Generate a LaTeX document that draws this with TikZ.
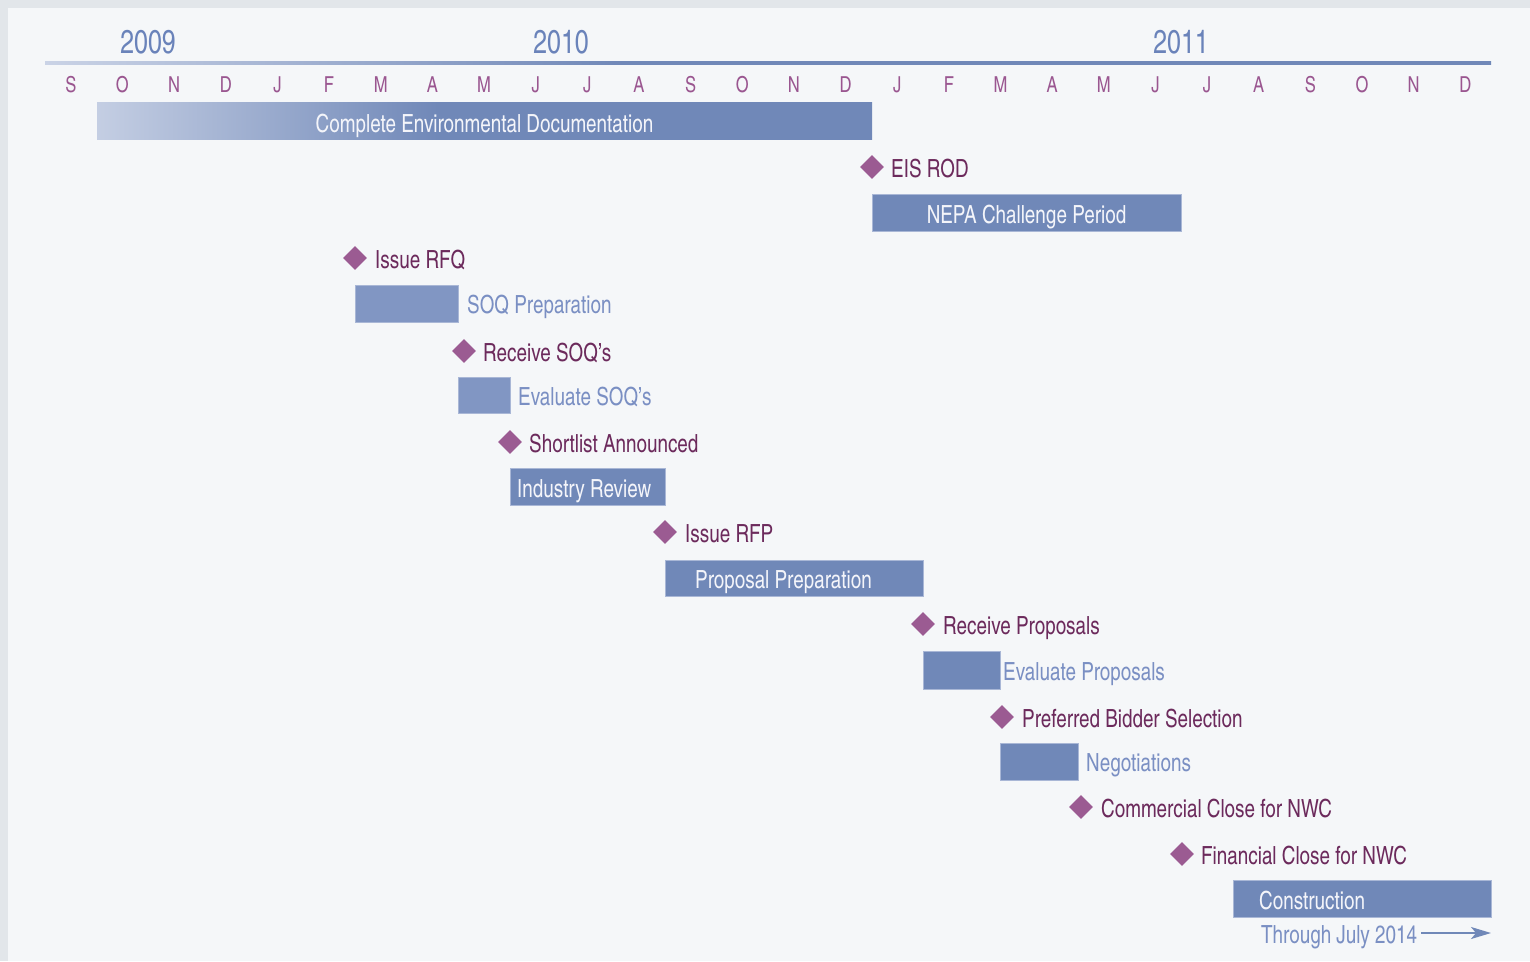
\documentclass[tikz,border=0pt]{standalone}
\usepackage{fontspec}
\setmainfont{texgyreheroscn-regular.otf}[FakeStretch=0.92]
\usetikzlibrary{shapes.geometric,arrows.meta}
\definecolor{outerbg}{HTML}{E2E6EA}
\definecolor{innerbg}{HTML}{F5F7F9}
\definecolor{barcol}{HTML}{7088B8}
\definecolor{barlight}{HTML}{8196C3}
\definecolor{barborder}{HTML}{A9B7D6}
\definecolor{envlight}{HTML}{C4CEE3}
\definecolor{linelight}{HTML}{CAD3E6}
\definecolor{monthcol}{HTML}{9A5690}
\definecolor{mscol}{HTML}{6C2A5C}
\definecolor{diacol}{HTML}{9B5B92}
\definecolor{lblcol}{HTML}{7A8FC3}
\definecolor{yearcol}{HTML}{6A83BA}
\definecolor{wtext}{HTML}{F4F5FA}
\pgfdeclarehorizontalshading{envshade}{100bp}{color(0bp)=(envlight); color(25bp)=(envlight); color(47bp)=(barcol); color(100bp)=(barcol)}
\pgfdeclarehorizontalshading{lineshade}{100bp}{color(0bp)=(linelight); color(25bp)=(linelight); color(45bp)=(barcol); color(100bp)=(barcol)}
\tikzset{
  bar/.style={fill=barcol, draw=barborder, line width=0.6pt, inner sep=0pt, outer sep=0pt, anchor=north west, minimum height=37pt},
  barl/.style={bar, fill=barlight},
  dia/.style={diamond, fill=diacol, inner sep=0pt, minimum width=24pt, minimum height=24pt},
  mstext/.style={text=mscol, inner sep=0pt, anchor=base west},
  lbl/.style={text=lblcol, inner sep=0pt, anchor=base west},
  intext/.style={text=wtext, inner sep=0pt},
  month/.style={text=monthcol, inner sep=0pt, anchor=base, font=\fontsize{22}{26}\selectfont},
  year/.style={text=yearcol, inner sep=0pt, anchor=base, font=\fontsize{33}{38}\selectfont},
}
\begin{document}
\begin{tikzpicture}[x=1pt,y=-1pt,font=\fontsize{25}{30}\selectfont]
\useasboundingbox (0,0) rectangle (1530,961);
\fill[outerbg] (0,0) rectangle (1530,961);
\fill[innerbg] (8,8) rectangle (1530,961);
% timeline
\shade[shading=lineshade] (45,61.5) rectangle (1491,64.5);
\node[year] (y2009) at (148,53) {2009};
\node[year] (y2010) at (561,53) {2010};
\node[year] (y2011) at (1181,53) {2011};
\foreach \m [count=\i from 0] in {S,O,N,D,J,F,M,A,M,J,J,A,S,O,N,D,J,F,M,A,M,J,J,A,S,O,N,D}
  \node[month] (m\i) at ({70.8+51.65*\i},92) {\m};
% Complete Environmental Documentation
\shade[shading=envshade] (97,102) rectangle (872,139);
\node[bar, fill=none, draw=none, minimum width=775pt] (env) at (97,102) {};
\node[intext, anchor=base] (envt) at (484.5,132) {Complete Environmental Documentation};
% EIS ROD
\node[dia] (d1) at (872,167) {};
\node[mstext] (t1) at (891,177) {EIS ROD};
% NEPA
\node[bar, minimum width=309pt] (nepa) at (872,194) {};
\node[intext, anchor=base] (nepat) at (1026.5,223) {NEPA Challenge Period};
% Issue RFQ
\node[dia] (d2) at (355,258) {};
\node[mstext] (t2) at (375,268) {Issue RFQ};
% SOQ Preparation
\node[barl, minimum width=103pt] (soq) at (355,285) {};
\node[lbl] (soqt) at (467,313) {SOQ Preparation};
% Receive SOQ's
\node[dia] (d3) at (464,351) {};
\node[mstext] (t3) at (483,361) {Receive SOQ’s};
% Evaluate SOQ's
\node[barl, minimum width=52pt, minimum height=36pt] (esoq) at (458,377) {};
\node[lbl] (esoqt) at (518,405) {Evaluate SOQ’s};
% Shortlist
\node[dia] (d4) at (510,442) {};
\node[mstext] (t4) at (529,452) {Shortlist Announced};
% Industry Review
\node[bar, minimum width=155pt] (ind) at (510,468) {};
\node[intext, anchor=base west] (indt) at (517,497) {Industry Review};
% Issue RFP
\node[dia] (d5) at (665,532) {};
\node[mstext] (t5) at (685,542) {Issue RFP};
% Proposal Preparation
\node[bar, minimum width=258pt, minimum height=36pt] (prop) at (665,560) {};
\node[intext, anchor=base west] (propt) at (695,588) {Proposal Preparation};
% Receive Proposals
\node[dia] (d6) at (923,624) {};
\node[mstext] (t6) at (943,634) {Receive Proposals};
% Evaluate Proposals
\node[bar, minimum width=77pt, minimum height=38pt] (eprop) at (923,651) {};
\node[lbl] (epropt) at (1003,680) {Evaluate Proposals};
% Preferred Bidder
\node[dia] (d7) at (1002,717) {};
\node[mstext] (t7) at (1022,727) {Preferred Bidder Selection};
% Negotiations
\node[bar, minimum width=78pt] (neg) at (1000,743) {};
\node[lbl] (negt) at (1086,771) {Negotiations};
% Commercial Close
\node[dia] (d8) at (1081,807) {};
\node[mstext] (t8) at (1101,817) {Commercial Close for NWC};
% Financial Close
\node[dia] (d9) at (1182,854) {};
\node[mstext] (t9) at (1201,864) {Financial Close for NWC};
% Construction
\node[bar, minimum width=258pt] (cons) at (1233,880) {};
\node[intext, anchor=base west] (const) at (1259,909) {Construction};
\node[lbl] (thru) at (1261,943) {Through July 2014};
\coordinate (arrS) at (1421,933);
\coordinate (arrE) at (1491,933);
\draw[barcol, line width=1.8pt, -{Stealth[length=20pt,width=12pt,inset=5pt]}] (arrS) -- (arrE);
\end{tikzpicture}
\end{document}
